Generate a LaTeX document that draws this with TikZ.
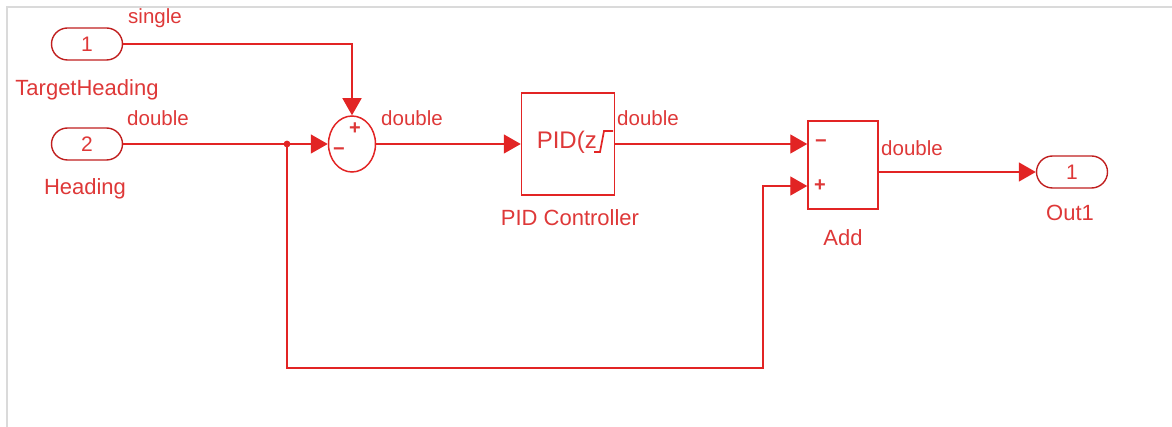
\documentclass[tikz,border=0pt]{standalone}
\usepackage{fontspec}
\setmainfont{Liberation Sans}
\usetikzlibrary{shapes.geometric,arrows.meta}
\definecolor{simred}{RGB}{226,36,36}
\definecolor{txtred}{RGB}{222,56,56}
\definecolor{framegray}{RGB}{218,218,218}
\tikzset{
  sig/.style={draw=simred, line width=1.4pt, -{Triangle[length=17pt,width=19pt]}},
  port/.style={draw=simred!85!black, line width=1.4pt, rectangle, rounded corners=16pt,
    minimum width=71pt, minimum height=32pt, inner sep=0pt, text=txtred,
    font=\fontsize{21}{24}\selectfont},
  blk/.style={draw=simred, line width=1.5pt, rectangle, inner sep=0pt, fill=white},
  lbl/.style={text=txtred, inner sep=0pt, font=\fontsize{22}{26}\selectfont},
  slbl/.style={text=txtred, inner sep=0pt, font=\fontsize{20.5}{24}\selectfont},
  sign/.style={text=txtred, inner sep=0pt, font=\fontsize{20}{24}\selectfont\bfseries},
}
\begin{document}
\begin{tikzpicture}[x=1pt,y=-1pt]
\useasboundingbox (0,0) rectangle (1172,427);
\draw[framegray, line width=1.5pt] (7,427) -- (7,7) -- (1172,7);
% blocks
\node[port] (in1) at (87,44) {1};
\node[lbl] (l1) at (87,90) {TargetHeading};
\node[port] (in2) at (87,144) {2};
\node[lbl] (l2) at (85,189) {Heading};
\node[blk, ellipse, minimum width=47pt, minimum height=56pt] (sum) at (352,144) {};
\node[sign] (sp) at (355,129) {+};
\node[sign] (sm) at (339,152) {\textminus};
\node[blk, minimum width=93pt, minimum height=102pt] (pid) at (568,144) {};
\node[text=txtred, inner sep=0pt, font=\fontsize{24}{28}\selectfont, anchor=east] (pidt) at (597,142) {PID(z};
\draw[simred, line width=1.7pt] (594,152) -- (600,152) -- (604,131) -- (613,131);
\node[lbl] (lpid) at (570,218) {PID Controller};
\node[blk, minimum width=70pt, minimum height=88pt] (add) at (843,165) {};
\node[sign] (am) at (821,144) {\textminus};
\node[sign] (ap) at (820,186) {+};
\node[lbl] (ladd) at (843,238) {Add};
\node[port] (out) at (1072,172) {1};
\node[lbl] (lout) at (1070,213) {Out1};
% signal labels
\node[slbl] (s1) at (155,18) {single};
\node[slbl] (s2) at (158,118) {double};
\node[slbl] (s3) at (412,118) {double};
\node[slbl] (s4) at (648,118) {double};
\node[slbl] (s5) at (912,148) {double};
% connectors
\coordinate (j) at (287,144);
\coordinate (b1) at (287,368);
\coordinate (b2) at (763,368);
\coordinate (b3) at (763,186);
\draw[sig] (in1.east) -| (sum.north);
\draw[sig] (in2.east) -- (sum.west);
\fill[simred] (j) circle (3.4pt);
\draw[sig] (j) -- (b1) -- (b2) -- (b3) -- (add.west |- b3);
\draw[sig] (sum.east) -- (pid.west);
\draw[sig] (pid.east) -- (add.west |- pid.east);
\draw[sig] (add.east |- out.west) -- (out.west);
\end{tikzpicture}
\end{document}
